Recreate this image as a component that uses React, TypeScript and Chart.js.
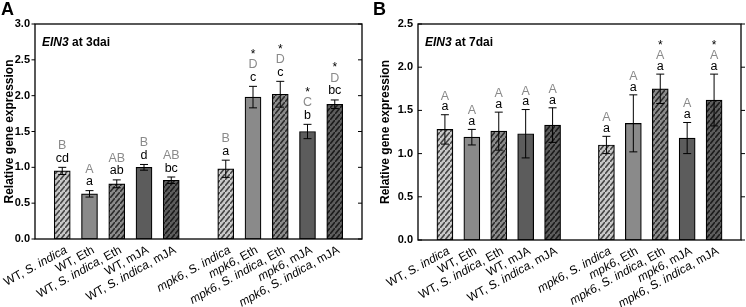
import React, { useEffect, useRef } from 'react';
import { Chart, registerables } from 'chart.js';

Chart.register(...registerables);

// ---------- data ----------
const categories = [
  'WT, S. indica',
  'WT, Eth',
  'WT, S. indica, Eth',
  'WT, mJA',
  'WT, S. indica, mJA',
  'mpk6, S. indica',
  'mpk6, Eth',
  'mpk6, S. indica, Eth',
  'mpk6, mJA',
  'mpk6, S. indica, mJA',
];

const valuesA = [0.95, 0.63, 0.77, 1.0, 0.82, 0.98, 1.98, 2.02, 1.5, 1.88];
const errorsA = [0.05, 0.045, 0.055, 0.04, 0.045, 0.12, 0.15, 0.18, 0.1, 0.06];
const upperA = ['B', 'A', 'AB', 'B', 'AB', 'B', 'D', 'D', 'C', 'D'];
const lowerA = ['cd', 'a', 'ab', 'd', 'bc', 'a', 'c', 'c', 'b', 'bc'];
const starsA = [false, false, false, false, false, false, true, true, true, true];

const valuesB = [1.28, 1.19, 1.26, 1.23, 1.33, 1.1, 1.35, 1.75, 1.18, 1.62];
const errorsB = [0.17, 0.09, 0.22, 0.28, 0.2, 0.1, 0.33, 0.17, 0.18, 0.3];
const upperB = ['A', 'A', 'A', 'A', 'A', 'A', 'A', 'A', 'A', 'A'];
const lowerB = ['a', 'a', 'a', 'a', 'a', 'a', 'a', 'a', 'a', 'a'];
const starsB = [false, false, false, false, false, false, false, true, false, true];

const yMaxA = 3.0;
const yMaxB = 2.5;
const yStep = 0.5;
const yTitle = 'Relative gene expression';

const FONT = 'Arial, "Liberation Sans", Helvetica, sans-serif';
Chart.defaults.font.family = FONT;

// 0 light hatched, 1 medium solid, 2 medium hatched, 3 dark solid, 4 dark hatched
const barKinds = [0, 1, 2, 3, 4, 0, 1, 2, 3, 4];

// slots: blank, 5 WT, blank, 5 mpk6, blank
const slotOf = (i: number) => (i < 5 ? i + 1 : i + 2);
const slotLabels: string[] = ['', ...categories.slice(0, 5), '', ...categories.slice(5), ''];

function hatch(base: string, stripe: string): CanvasPattern | string {
  const w = 5, h = 6;
  const c = document.createElement('canvas');
  c.width = w;
  c.height = h;
  const g = c.getContext('2d');
  if (!g) return base;
  g.fillStyle = base;
  g.fillRect(0, 0, w, h);
  g.strokeStyle = stripe;
  g.lineWidth = 1.7;
  g.beginPath();
  for (const [ox, oy] of [[0, 0], [w, -h], [-w, h]]) {
    g.moveTo(ox, oy + h);
    g.lineTo(ox + w, oy);
  }
  g.stroke();
  return g.createPattern(c, 'repeat') || base;
}

function splitLabel(label: string) {
  const parts: { t: string; it: boolean }[] = [];
  const re = /(S\. indica|mpk6)/g;
  let last = 0;
  let m: RegExpExecArray | null;
  while ((m = re.exec(label))) {
    if (m.index > last) parts.push({ t: label.slice(last, m.index), it: false });
    parts.push({ t: m[0], it: true });
    last = m.index + m[0].length;
  }
  if (last < label.length) parts.push({ t: label.slice(last), it: false });
  return parts;
}

interface Panel {
  key: string;
  letter: string;
  gene: string;
  rest: string;
  values: number[];
  errors: number[];
  upper: string[];
  lower: string[];
  stars: boolean[];
  yMax: number;
  padLeft: number;
  padRight: number;
  yWidth: number;
  xHeight: number;
  leftTickOut: boolean;
  rightTickOut: boolean;
  lowOff: number;
  upOff: number;
  starOff: number;
  tickPad: number;
  titleX: number;
  letterX: number;
}

const panelA: Panel = {
  key: 'A', letter: 'A', gene: 'EIN3', rest: ' at 3dai',
  values: valuesA, errors: errorsA, upper: upperA, lower: lowerA, stars: starsA,
  yMax: yMaxA, padLeft: 0, padRight: 6, yWidth: 35, xHeight: 68,
  leftTickOut: true, rightTickOut: false, lowOff: 5.5, upOff: 18, starOff: 28.5, tickPad: 5,
  titleX: 9.5, letterX: 1,
};

const panelB: Panel = {
  key: 'B', letter: 'B', gene: 'EIN3', rest: ' at 7dai',
  values: valuesB, errors: errorsB, upper: upperB, lower: lowerB, stars: starsB,
  yMax: yMaxB, padLeft: 6, padRight: 5, yWidth: 42, xHeight: 67,
  leftTickOut: false, rightTickOut: true, lowOff: 4.3, upOff: 15, starOff: 25.5, tickPad: 5,
  titleX: 16, letterX: 3,
};

function makeConfig(p: Panel): any {
  const fills: any[] = [
    hatch('#c9c9c9', '#464646'),
    '#8a8a8a',
    hatch('#8c8c8c', '#2c2c2c'),
    '#5c5c5c',
    hatch('#5e5e5e', '#1c1c1c'),
  ];
  const data: (number | null)[] = slotLabels.map(() => null);
  const bg: any[] = slotLabels.map(() => 'rgba(0,0,0,0)');
  p.values.forEach((v, i) => {
    data[slotOf(i)] = v;
    bg[slotOf(i)] = fills[barKinds[i]];
  });

  const plugin = {
    id: 'panel' + p.key,
    afterDatasetsDraw(chart: any) {
      const ctx: CanvasRenderingContext2D = chart.ctx;
      const { left, right, top, bottom } = chart.chartArea;
      const xs = chart.scales.x;
      const ys = chart.scales.y;
      ctx.save();

      // error bars and letters
      p.values.forEach((v, i) => {
        const x = xs.getPixelForValue(slotOf(i));
        const yT = ys.getPixelForValue(v + p.errors[i]);
        const yB = ys.getPixelForValue(v - p.errors[i]);
        ctx.strokeStyle = '#000';
        ctx.lineWidth = 1;
        ctx.beginPath();
        ctx.moveTo(x, yT);
        ctx.lineTo(x, yB);
        ctx.moveTo(x - 4, yT);
        ctx.lineTo(x + 4, yT);
        ctx.moveTo(x - 4, yB);
        ctx.lineTo(x + 4, yB);
        ctx.stroke();

        ctx.textAlign = 'center';
        ctx.textBaseline = 'alphabetic';
        ctx.font = `12.5px ${FONT}`;
        ctx.fillStyle = '#000';
        ctx.fillText(p.lower[i], x, yT - p.lowOff);
        ctx.fillStyle = '#8a8a8a';
        ctx.fillText(p.upper[i], x, yT - p.upOff);
        if (p.stars[i]) {
          ctx.fillStyle = '#000';
          ctx.font = `12px ${FONT}`;
          ctx.fillText('*', x, yT - p.starOff);
        }
      });

      // frame
      ctx.strokeStyle = '#000';
      ctx.lineWidth = 1.3;
      ctx.strokeRect(left, top, right - left, bottom - top);

      // y ticks
      ctx.lineWidth = 1;
      ctx.beginPath();
      ys.ticks.forEach((t: any) => {
        const y = ys.getPixelForValue(t.value);
        if (p.leftTickOut) { ctx.moveTo(left - 3.5, y); ctx.lineTo(left, y); }
        else { ctx.moveTo(left, y); ctx.lineTo(left + 4, y); }
        if (p.rightTickOut) { ctx.moveTo(right, y); ctx.lineTo(right + 4, y); }
        else { ctx.moveTo(right - 4, y); ctx.lineTo(right, y); }
      });
      ctx.stroke();

      // y title
      ctx.save();
      ctx.translate(p.titleX, (top + bottom) / 2);
      ctx.rotate(-Math.PI / 2);
      ctx.textAlign = 'center';
      ctx.textBaseline = 'middle';
      ctx.fillStyle = '#000';
      ctx.font = `bold 12px ${FONT}`;
      ctx.fillText(yTitle, 0, 0);
      ctx.restore();

      // title in chart
      ctx.textAlign = 'left';
      ctx.textBaseline = 'alphabetic';
      ctx.fillStyle = '#000';
      ctx.font = `italic bold 12px ${FONT}`;
      ctx.fillText(p.gene, left + 7, top + 22);
      const gw = ctx.measureText(p.gene).width;
      ctx.font = `bold 12px ${FONT}`;
      ctx.fillText(p.rest, left + 7 + gw, top + 22);

      // panel letter
      ctx.font = `bold 18px ${FONT}`;
      ctx.fillText(p.letter, p.letterX, 15);

      // x labels
      const ang = (-29 * Math.PI) / 180;
      categories.forEach((lab, i) => {
        const x = xs.getPixelForValue(slotOf(i));
        const parts = splitLabel(lab);
        const fontFor = (it: boolean) => `${it ? 'italic ' : ''}12px ${FONT}`;
        let total = 0;
        parts.forEach((pt) => {
          ctx.font = fontFor(pt.it);
          total += ctx.measureText(pt.t).width;
        });
        ctx.save();
        ctx.translate(x + 1, bottom + 5);
        ctx.rotate(ang);
        ctx.textAlign = 'left';
        ctx.textBaseline = 'top';
        ctx.fillStyle = '#000';
        let cx = -total;
        parts.forEach((pt) => {
          ctx.font = fontFor(pt.it);
          ctx.fillText(pt.t, cx, 0);
          cx += ctx.measureText(pt.t).width;
        });
        ctx.restore();
      });

      ctx.restore();
    },
  };

  return {
    type: 'bar',
    data: {
      labels: slotLabels,
      datasets: [
        {
          data,
          backgroundColor: bg,
          borderColor: '#000',
          borderWidth: 1.2,
          borderSkipped: false,
          barThickness: 16,
        },
      ],
    },
    options: {
      responsive: false,
      animation: false,
      devicePixelRatio: 1,
      layout: { padding: { left: p.padLeft, right: p.padRight, top: 24, bottom: 0 } },
      plugins: { legend: { display: false }, tooltip: { enabled: false } },
      scales: {
        x: {
          type: 'category',
          offset: false,
          grid: { display: false, drawTicks: false },
          border: { display: false },
          ticks: { display: false },
          afterFit: (s: any) => { s.height = p.xHeight; },
        },
        y: {
          min: 0,
          max: p.yMax,
          grid: { display: false, drawTicks: false },
          border: { display: false },
          ticks: {
            stepSize: yStep,
            padding: p.tickPad,
            color: '#000',
            font: { size: 11, weight: 'bold', family: FONT },
            callback: (v: any) => Number(v).toFixed(1),
          },
          title: { display: false },
          afterFit: (s: any) => { s.width = p.yWidth; },
        },
      },
    },
    plugins: [plugin],
  };
}

export default function App() {
  const refA = useRef<HTMLCanvasElement>(null);
  const refB = useRef<HTMLCanvasElement>(null);
  useEffect(() => {
    if (!refA.current || !refB.current) return;
    const a = new Chart(refA.current, makeConfig(panelA));
    const b = new Chart(refB.current, makeConfig(panelB));
    return () => {
      a.destroy();
      b.destroy();
    };
  }, []);
  return (
    <div style={{ position: 'fixed', left: 0, top: 0, width: 746, height: 307, background: '#fff' }}>
      <canvas ref={refA} width={368} height={307}
        style={{ position: 'absolute', left: 0, top: 0, width: 368, height: 307 }} />
      <canvas ref={refB} width={376} height={307}
        style={{ position: 'absolute', left: 370, top: 0, width: 376, height: 307 }} />
    </div>
  );
}
